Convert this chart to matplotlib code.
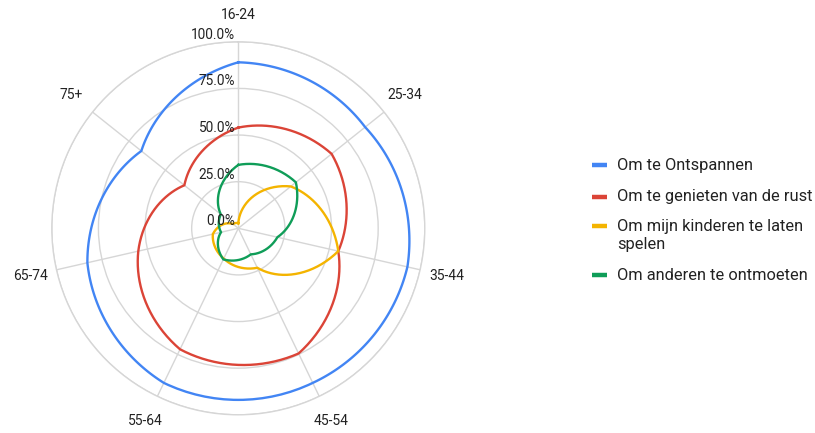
import numpy as np
import matplotlib
matplotlib.use("Agg")
import matplotlib.pyplot as plt
from matplotlib.lines import Line2D
from matplotlib.transforms import offset_copy

plt.rcParams['font.family'] = ['Roboto', 'DejaVu Sans']

categories = ["16-24", "25-34", "35-44", "45-54", "55-64", "65-74", "75+"]
series_names = ["Om te Ontspannen", "Om te genieten van de rust",
                "Om mijn kinderen te laten\nspelen", "Om anderen te ontmoeten"]
ontspannen = [89, 87, 93, 92, 92, 83, 66.5]
rust = [54, 64, 55, 74.5, 72, 55, 37]
kinderen = [2.7, 36, 55, 23.5, 18, 14, 3.6]
ontmoeten = [34, 39.5, 21.5, 15.5, 18.5, 9.5, 12]
r_ticks = [0, 25, 50, 75, 100]
r_tick_labels = ["0.0%", "25.0%", "50.0%", "75.0%", "100.0%"]

colors = ["#4285F4", "#DB4437", "#F4B400", "#0F9D58"]
series = [ontspannen, rust, kinderen, ontmoeten]
text_color = "#222222"
grid_color = "#d6d6d6"

W, H = 815, 433
fig = plt.figure(figsize=(W / 100, H / 100), dpi=100)
cx, cy, R = 238.3, 228.3, 186.5
ax = fig.add_axes([(cx - R) / W, 1 - (cy + R) / H, 2 * R / W, 2 * R / H],
                  projection='polar')
ax.set_theta_zero_location('N')
ax.set_theta_direction(-1)
n = len(categories)
theta = np.arange(n) * 2 * np.pi / n
ax.set_ylim(0, 100)
ax.set_yticks(r_ticks)
ax.set_yticklabels([])
ax.set_xticks(theta)
ax.set_xticklabels([])
ax.grid(True, color=grid_color, linewidth=1)
ax.spines['polar'].set_color(grid_color)
ax.spines['polar'].set_linewidth(1)
ax.set_facecolor('white')

for vals, col in zip(series, colors):
    th = np.append(theta, 2 * np.pi)
    rv = np.append(vals, vals[0])
    line, = ax.plot(th, rv, color=col, linewidth=1.7, solid_joinstyle='miter')
    line.get_path()._interpolation_steps = 60

tr = offset_copy(ax.transData, fig=fig, x=-3, y=3, units='dots')
for v, lab in zip(r_ticks, r_tick_labels):
    ax.text(0, v, lab, transform=tr, ha='right', va='baseline',
            fontsize=9.8, color=text_color, zorder=5)

for t, lab in zip(theta, categories):
    ax.text(t, 114.5, lab, ha='center', va='center', fontsize=10,
            color=text_color, clip_on=False)

# legend
leg_y = [165, 196.5, 226, 275]
text_y = [165, 196.5, 235.5, 275]
for name, col, y, ty in zip(series_names, colors, leg_y, text_y):
    fig.add_artist(Line2D([592 / W, 607 / W], [1 - y / H, 1 - y / H],
                          transform=fig.transFigure, color=col,
                          linewidth=3.2, solid_capstyle='butt'))
    fig.text(617 / W, 1 - ty / H, name, ha='left', va='center',
             fontsize=11.8, color=text_color, linespacing=1.25,
             transform=fig.transFigure)

fig.savefig("out.png", dpi=100, facecolor='white')
